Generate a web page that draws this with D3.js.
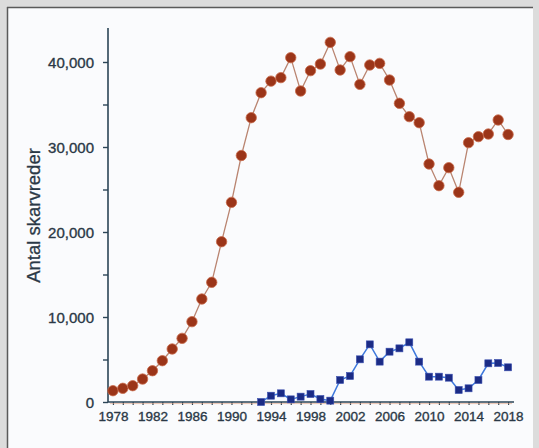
<!DOCTYPE html>
<html>
<head>
<meta charset="utf-8">
<script src="https://cdn.jsdelivr.net/npm/d3@7"></script>
<style>
  html, body { margin: 0; padding: 0; background: #dadada; }
  svg { display: block; }
</style>
</head>
<body>
<svg id="chart" width="539" height="448"></svg>
<script>
// Breeding cormorant nests per year
const years = d3.range(1978, 2019);

// Colony total (red circles), 1978–2018
const redValues = [
  1330, 1610, 1920, 2700, 3680, 4860, 6240, 7490, 9450, 12120,
  14080, 18860, 23490, 29000, 33450, 36390, 37750, 38160, 40510, 36590,
  38980, 39760, 42310, 39060, 40630, 37370, 39650, 39840, 37880, 35140,
  33570, 32860, 28000, 25450, 27570, 24670, 30510, 31220, 31530, 33180,
  31470
];

// Second series (blue squares), 1993–2018
const blueYears = d3.range(1993, 2019);
const blueValues = [
  0, 740, 1020, 310, 630, 940, 350, 160, 2590, 3060,
  5020, 6780, 4750, 5920, 6310, 7020, 4750, 2980, 2980, 2860,
  1410, 1610, 2590, 4550, 4590, 4080
];

const yTicks = [0, 10000, 20000, 30000, 40000];
const yMinorTicks = [5000, 15000, 25000, 35000];
const xLabelYears = d3.range(1978, 2019, 4);
const yTitle = "Antal skarvreder";

const svg = d3.select("#chart");

// panel
svg.append("rect").attr("x", 0).attr("y", 0).attr("width", 539).attr("height", 448).attr("fill", "#dcdcdc");
svg.append("rect").attr("x", 7).attr("y", 7).attr("width", 526).attr("height", 441).attr("fill", "#fafbfd");
svg.append("line").attr("x1", 7).attr("x2", 533).attr("y1", 7.5).attr("y2", 7.5).attr("stroke", "#5a5a5a").attr("stroke-width", 1.5);
svg.append("line").attr("x1", 7.5).attr("x2", 7.5).attr("y1", 7).attr("y2", 448).attr("stroke", "#5a5a5a").attr("stroke-width", 1.5);

const x = d3.scaleLinear().domain([1977.5, 2018.6]).range([108, 514]);
const y = d3.scaleLinear().domain([0, 44000]).range([402, 28]);

const axisColor = "#2b4556";
const textColor = "#2a3846";
const fontFamily = "Liberation Sans, Arial, sans-serif";
const fmt = d3.format(",");

// y axis
const yAxis = svg.append("g").attr("transform", "translate(108,0)")
  .call(d3.axisLeft(y).tickValues(yTicks.concat(yMinorTicks)).tickFormat(d => yTicks.includes(d) ? fmt(d) : "").tickSize(5).tickPadding(9));
yAxis.select(".domain").attr("stroke", axisColor).attr("stroke-width", 1.6).attr("d", `M0,${y(44000)}V${y(0)}`);
yAxis.selectAll(".tick line").attr("stroke", axisColor).attr("stroke-width", 1.4);
yAxis.selectAll(".tick text")
  .attr("fill", textColor).attr("stroke", textColor).attr("stroke-width", 0.35)
  .attr("font-family", fontFamily).attr("font-size", 15).attr("dy", "0.36em");

// x axis
const xAxis = svg.append("g").attr("transform", `translate(0,${y(0)})`)
  .call(d3.axisBottom(x).tickValues(years).tickFormat(d => xLabelYears.includes(d) ? d : "").tickSize(3).tickPadding(6));
xAxis.select(".domain").attr("stroke", axisColor).attr("stroke-width", 1.6).attr("d", `M108,0H514`);
xAxis.selectAll(".tick line").attr("stroke", axisColor).attr("stroke-width", 1.2);
xAxis.selectAll(".tick text")
  .attr("fill", textColor).attr("stroke", textColor).attr("stroke-width", 0.35)
  .attr("font-family", fontFamily).attr("font-size", 13.5);

// faint warm rule under the baseline
svg.append("line").attr("x1", 110).attr("x2", 512).attr("y1", y(0) + 1.6).attr("y2", y(0) + 1.6)
  .attr("stroke", "#e0a080").attr("stroke-width", 1).attr("opacity", 0.6);

// axis title
svg.append("text")
  .attr("transform", `translate(40,${(146 + 285) / 2}) rotate(-90)`)
  .attr("text-anchor", "middle")
  .attr("fill", textColor).attr("stroke", textColor).attr("stroke-width", 0.3)
  .attr("font-family", fontFamily).attr("font-size", 18.5)
  .text(yTitle);

// red series
const redData = years.map((yr, i) => ({ yr, v: redValues[i] }));
const line = d3.line().x(d => x(d.yr)).y(d => y(d.v));
svg.append("path").datum(redData).attr("d", line)
  .attr("fill", "none").attr("stroke", "#b98470").attr("stroke-width", 1.3);
svg.append("g").selectAll("circle").data(redData).join("circle")
  .attr("cx", d => x(d.yr)).attr("cy", d => y(d.v)).attr("r", 5.2)
  .attr("fill", "#9b3519").attr("stroke", "#c86a4a").attr("stroke-width", 0.8);

// blue series
const blueData = blueYears.map((yr, i) => ({ yr, v: blueValues[i] }));
svg.append("path").datum(blueData).attr("d", line)
  .attr("fill", "none").attr("stroke", "#3d78dc").attr("stroke-width", 1.5);
svg.append("g").selectAll("rect").data(blueData).join("rect")
  .attr("x", d => x(d.yr) - 3.5).attr("y", d => y(d.v) - 3.5)
  .attr("width", 7).attr("height", 7)
  .attr("fill", "#1b2b85").attr("stroke", "#3a4fb0").attr("stroke-width", 0.6);
</script>
</body>
</html>
